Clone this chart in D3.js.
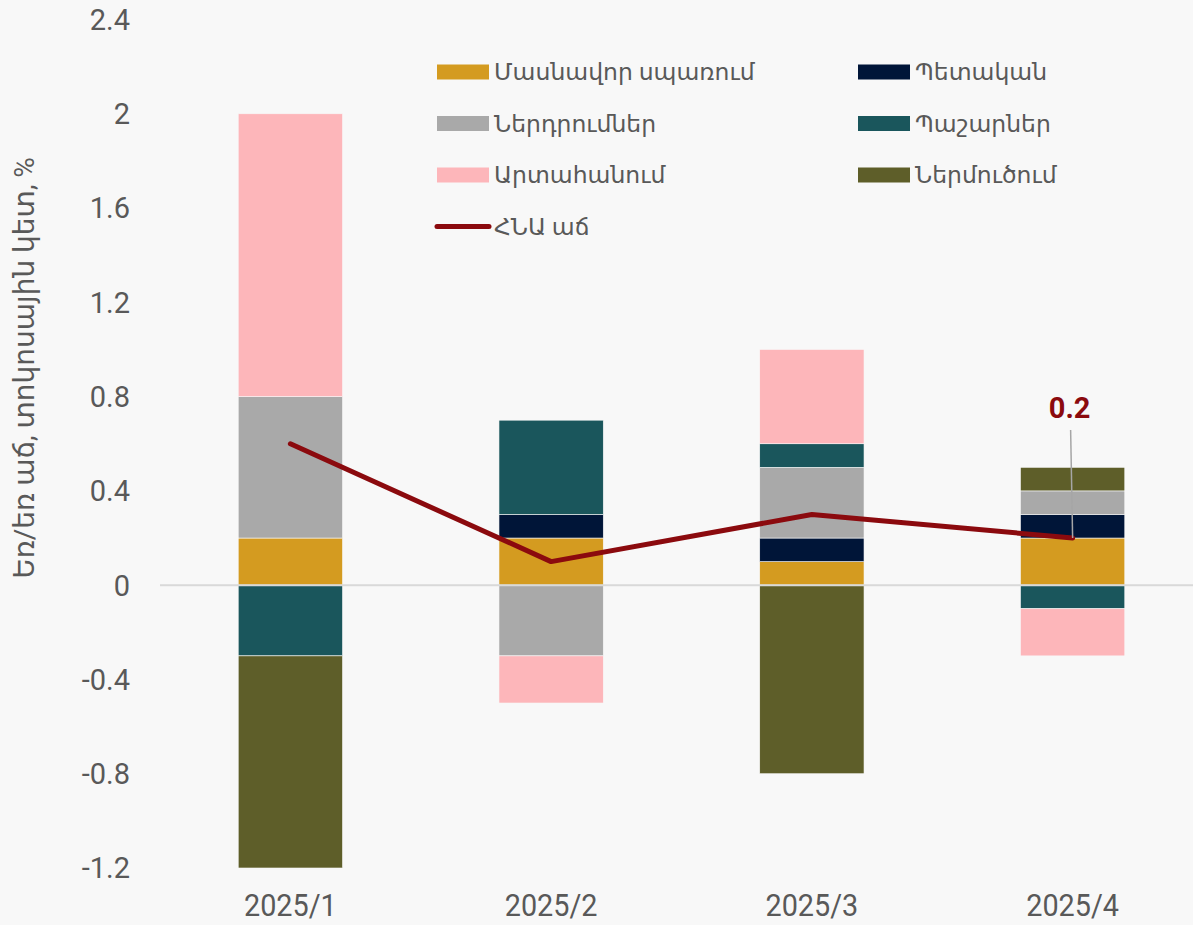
<!DOCTYPE html>
<html>
<head>
<meta charset="utf-8">
<script src="https://cdn.jsdelivr.net/npm/d3@7"></script>
<style>
  body { margin: 0; background: #f8f8f8; }
  svg { display: block; font-family: Roboto, "Noto Sans", "DejaVu Sans", sans-serif; }
</style>
</head>
<body>
<svg id="chart"></svg>
<script>
const size = { w: 1193, h: 925 };

// data
const quarters = ['2025/1', '2025/2', '2025/3', '2025/4'];
const seriesNames = ['Մասնավոր սպառում', 'Պետական', 'Ներդրումներ', 'Պաշարներ', 'Արտահանում', 'Ներմուծում'];
const seriesKeys = ['priv', 'gov', 'inv', 'stock', 'exp', 'imp'];
const priv = [0.2, 0.2, 0.1, 0.2];
const gov = [0.0, 0.1, 0.1, 0.1];
const inv = [0.6, -0.3, 0.3, 0.1];
const stock = [-0.3, 0.4, 0.1, -0.1];
const exp = [1.2, -0.2, 0.4, -0.2];
const imp = [-0.9, 0.0, -0.8, 0.1];
const gdp = [0.6, 0.1, 0.3, 0.2];
const yTicks = [-1.2, -0.8, -0.4, 0, 0.4, 0.8, 1.2, 1.6, 2, 2.4];

const colors = {
    priv: '#d49b20', gov: '#001538', inv: '#a9a9a9',
    stock: '#1a565c', exp: '#fdb6ba', imp: '#5e5e29'
};
const lineColor = '#8b0a0e';
const textColor = '#595959';

const svg = d3.select('svg#chart')
    .attr('width', size.w)
    .attr('height', size.h);

svg.append('rect').attr('width', size.w).attr('height', size.h).attr('fill', '#f8f8f8');

const rows = quarters.map((q, i) => ({
    q: q, priv: priv[i], gov: gov[i], inv: inv[i], stock: stock[i], exp: exp[i], imp: imp[i]
}));

const x = d3.scalePoint().domain(quarters).range([160, 1203]).padding(0.5);
const barW = x.step() * 0.4;
const y = d3.scaleLinear().domain([-1.2, 2.4]).range([868, 19.5]);

const stacked = d3.stack().keys(seriesKeys).offset(d3.stackOffsetDiverging)(rows);

// y tick labels (plain hyphen for negatives, like the source)
svg.append('g').selectAll('text')
    .data(yTicks)
    .join('text')
    .attr('x', 130)
    .attr('y', d => y(d))
    .attr('dy', '0.36em')
    .attr('text-anchor', 'end')
    .attr('font-size', 29)
    .attr('fill', textColor)
    .text(d => String(d));

// axis title
svg.append('text')
    .attr('transform', `translate(34, 368) rotate(-90)`)
    .attr('text-anchor', 'middle')
    .attr('font-size', 28)
    .attr('fill', textColor)
    .text('Եռ/եռ աճ, տոկոսային կետ, %');

// bars
svg.append('g').selectAll('g')
    .data(stacked)
    .join('g')
    .attr('fill', d => colors[d.key])
    .selectAll('rect')
    .data(d => d)
    .join('rect')
    .attr('x', d => x(d.data.q) - barW / 2)
    .attr('width', barW)
    .attr('y', d => y(Math.max(d[0], d[1])))
    .attr('height', d => Math.abs(y(d[0]) - y(d[1])))
    .attr('stroke', '#f8f8f8')
    .attr('stroke-width', 0.6);

// zero line
svg.append('line')
    .attr('x1', 160).attr('x2', size.w)
    .attr('y1', y(0)).attr('y2', y(0))
    .attr('stroke', '#d9d9d9')
    .attr('stroke-width', 2);

// x labels
svg.append('g').selectAll('text')
    .data(quarters)
    .join('text')
    .attr('transform', d => `translate(${x(d)}, 916) scale(0.9, 1)`)
    .attr('text-anchor', 'middle')
    .attr('font-size', 32)
    .attr('fill', textColor)
    .text(d => d);

// gdp line
const line = d3.line()
    .x((d, i) => x(quarters[i]))
    .y(d => y(d));

svg.append('path')
    .datum(gdp)
    .attr('d', line)
    .attr('fill', 'none')
    .attr('stroke', lineColor)
    .attr('stroke-width', 5)
    .attr('stroke-linejoin', 'round')
    .attr('stroke-linecap', 'round');

// label for last point
const last = gdp.length - 1;
svg.append('line')
    .attr('x1', x(quarters[last]) - 2).attr('y1', 430)
    .attr('x2', x(quarters[last])).attr('y2', y(gdp[last]))
    .attr('stroke', '#a6a6a6')
    .attr('stroke-width', 1.5);
svg.append('text')
    .attr('x', x(quarters[last]) - 3)
    .attr('y', 418)
    .attr('text-anchor', 'middle')
    .attr('font-size', 29)
    .attr('font-weight', 'bold')
    .attr('fill', lineColor)
    .text(d3.format('.1f')(gdp[last]));

// legend
const legendItems = [
    { key: 'priv', col: 0, row: 0 }, { key: 'gov', col: 1, row: 0 },
    { key: 'inv', col: 0, row: 1 }, { key: 'stock', col: 1, row: 1 },
    { key: 'exp', col: 0, row: 2 }, { key: 'imp', col: 1, row: 2 }
];
const colX = [437, 858];
const rowY = [72, 123.5, 175, 226.5];

const legend = svg.append('g');
legendItems.forEach(item => {
    const lx = colX[item.col], ly = rowY[item.row];
    legend.append('rect')
        .attr('x', lx).attr('y', ly - 7.5)
        .attr('width', 52).attr('height', 15)
        .attr('fill', colors[item.key]);
    legend.append('text')
        .attr('x', lx + 57).attr('y', ly)
        .attr('dy', '0.35em')
        .attr('font-size', 23.5)
        .attr('fill', textColor)
        .text(seriesNames[seriesKeys.indexOf(item.key)]);
});
legend.append('line')
    .attr('x1', colX[0]).attr('x2', colX[0] + 52)
    .attr('y1', rowY[3]).attr('y2', rowY[3])
    .attr('stroke', lineColor)
    .attr('stroke-width', 5)
    .attr('stroke-linecap', 'round');
legend.append('text')
    .attr('x', colX[0] + 57).attr('y', rowY[3])
    .attr('dy', '0.35em')
    .attr('font-size', 23.5)
    .attr('fill', textColor)
    .text('ՀՆԱ աճ');
</script>
</body>
</html>
